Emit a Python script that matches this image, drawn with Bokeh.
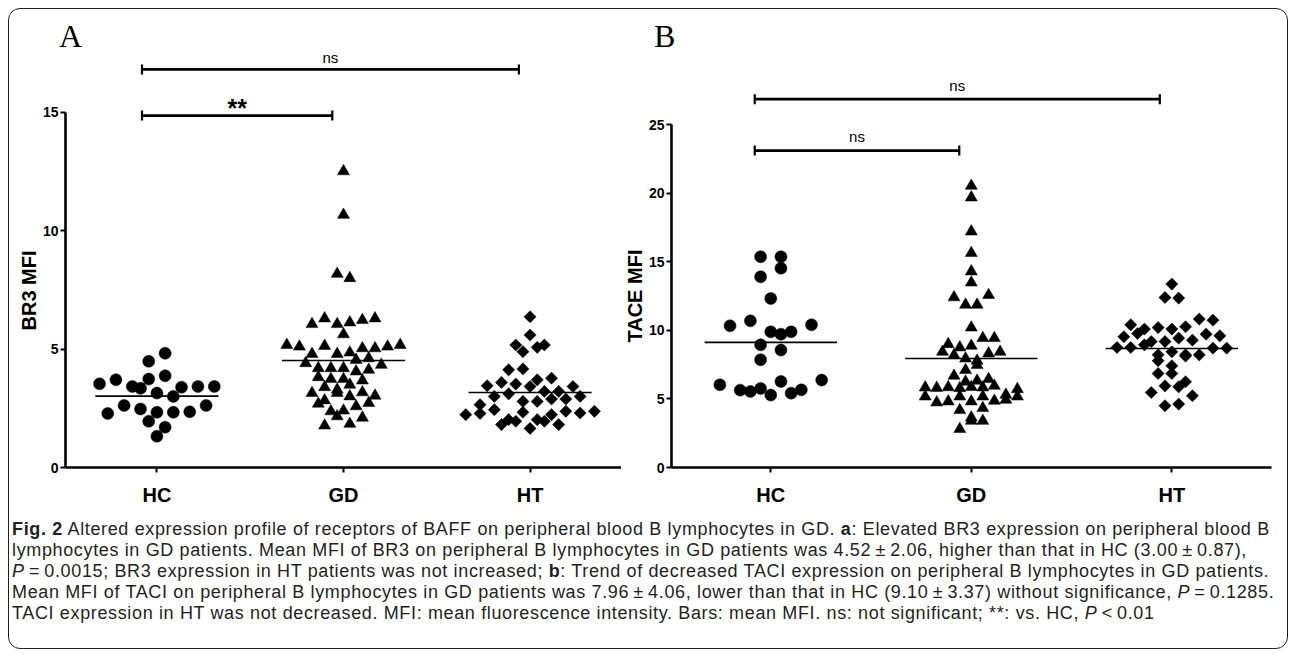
import numpy as np
from bokeh.plotting import figure
from bokeh.layouts import row, column
from bokeh.models import FixedTicker, Label, Div, Title
from bokeh.embed import file_html
from bokeh.resources import INLINE

# ---------------- data ----------------
groups = ["HC", "GD", "HT"]

br3_hc = [3.53, 3.70, 2.28, 3.34, 2.62, 4.48, 3.42, 2.47, 1.95, 1.32,
          4.82, 3.73, 3.14, 2.33, 1.70, 3.87, 3.39, 2.33, 3.42, 3.00,
          2.35, 3.42, 2.62]
br3_gd = [5.17, 5.10, 4.40, 3.14, 6.05, 4.79, 3.81, 3.39, 2.69,
          6.29, 5.13, 4.19, 3.73, 3.28, 2.83, 2.37, 1.77,
          8.17, 6.05, 4.79, 4.19, 3.73, 3.14, 2.16,
          12.50, 10.66, 5.62,
          7.99, 6.12, 4.85, 4.19, 2.40, 1.84,
          6.22, 5.03, 4.54, 4.05, 3.49, 3.00, 2.58, 2.10,
          6.29, 5.03, 4.61, 4.12, 3.67, 3.17, 2.72,
          5.10, 4.33, 3.03, 5.17]
br3_ht = [2.65, 2.23, 4.12, 3.45, 3.00, 2.28, 1.81, 3.59, 3.11, 2.44, 2.02,
          5.17, 3.52, 2.79, 2.33, 1.95, 6.36, 5.59, 4.89, 3.42, 2.02,
          5.07, 4.16, 3.70, 3.21, 2.79, 2.23, 1.65,
          5.17, 3.77, 3.21, 2.89, 2.37, 1.95, 3.42, 2.89, 2.30, 1.81,
          3.00, 2.37]

tace_hc = [5.54, 10.33, 6.03, 10.69, 9.89, 5.64, 15.36, 13.90,
           12.32, 9.89, 8.94, 7.85, 5.76, 15.36, 14.53,
           9.72, 8.56, 6.27, 5.28, 10.40, 5.66, 6.37, 5.42]
tace_gd = [5.17, 5.83, 5.80, 4.74, 8.43, 6.68, 5.85, 4.81,
           12.40, 8.99, 8.19, 6.25, 5.17, 4.18, 2.80,
           11.86, 8.75, 7.94, 7.10, 5.78, 4.81, 3.64,
           20.53, 19.68, 17.20, 15.63, 14.29, 13.48, 10.20,
           11.86, 8.87, 7.78, 6.32, 5.17, 4.33, 3.40,
           12.57, 9.43, 8.31, 7.46, 5.86, 4.86, 3.40,
           9.43, 8.43, 5.83, 4.93, 5.95, 5.17, 6.44, 5.30, 5.71]
tace_ht = [8.75, 10.40, 9.53, 8.75, 9.77, 8.94, 7.78,
           10.09, 8.21, 6.85, 5.47, 4.50,
           12.39, 10.20, 9.18, 8.43, 6.85, 5.95, 13.37,
           12.35, 10.09, 9.18, 8.21, 7.41, 5.88, 4.62,
           10.26, 9.43, 8.21, 6.25, 5.23, 9.28, 8.12,
           10.82, 9.72, 8.70, 10.74, 9.60, 8.70]

br3_ticks = [0, 5, 10, 15]
tace_ticks = [0, 5, 10, 15, 20, 25]

br3_tests = [("HC", "GD", 14.85, "**"), ("HC", "HT", 16.8, "ns")]
tace_tests = [("HC", "GD", 23.1, "ns"), ("HC", "HT", 26.85, "ns")]

caption_lines = [
    "<b>Fig. 2</b> Altered expression profile of receptors of BAFF on peripheral blood B lymphocytes in GD. <b>a</b>: Elevated BR3 expression on peripheral blood B",
    "lymphocytes in GD patients. Mean MFI of BR3 on peripheral B lymphocytes in GD patients was 4.52\u2009\u00b1\u20092.06, higher than that in HC (3.00\u2009\u00b1\u20090.87),",
    "<i>P</i>\u2009=\u20090.0015; BR3 expression in HT patients was not increased; <b>b</b>: Trend of decreased TACI expression on peripheral B lymphocytes in GD patients.",
    "Mean MFI of TACI on peripheral B lymphocytes in GD patients was 7.96\u2009\u00b1\u20094.06, lower than that in HC (9.10\u2009\u00b1\u20093.37) without significance, <i>P</i>\u2009=\u20090.1285.",
    "TACI expression in HT was not decreased. MFI: mean fluorescence intensity. Bars: mean MFI. ns: not significant; **: vs. HC, <i>P</i>\u2009&lt;\u20090.01",
]

# ---------------- styling ----------------
SANS = "Liberation Sans"
SERIF = "Liberation Serif"
FIG_H = 459
BORDER_TOP = 0
BORDER_BOTTOM = 41
FRAME_H = FIG_H - BORDER_TOP - BORDER_BOTTOM


def swarm(vals, px_per_unit, row_px, gap_px):
    """Prism-like row swarm: values closer than row_px share a centred row."""
    v = np.asarray(vals, dtype=float)
    order = np.argsort(-v, kind="stable")
    rows, cur, top = [], [], None
    for i in order:
        if cur and (top - v[i]) * px_per_unit > row_px:
            rows.append(cur)
            cur = []
        if not cur:
            top = v[i]
        cur.append(i)
    if cur:
        rows.append(cur)
    off = np.zeros(len(v))
    for r in rows:
        r = sorted(r)
        n = len(r)
        for k, i in enumerate(r):
            off[i] = (k - (n - 1) / 2.0) * gap_px
    return off


def make_panel(ylabel, label_offset, series, yticks, y_end, width, bl, br, x_range,
               tests, styles, ns_gap_px):
    p = figure(width=width, height=FIG_H, x_range=x_range, y_range=(0, y_end),
               output_backend="svg", toolbar_location=None,
               min_border_left=bl, min_border_right=br,
               min_border_top=BORDER_TOP, min_border_bottom=BORDER_BOTTOM)
    p.outline_line_color = None
    p.grid.visible = False
    p.background_fill_color = "white"
    p.border_fill_color = "white"

    frame_w = width - bl - br
    px_x = frame_w / (x_range[1] - x_range[0])
    px_y = FRAME_H / y_end

    for gi, (vals, st) in enumerate(zip(series, styles)):
        g = gi + 1
        off = swarm(vals, px_y, st["row"], st["gap"]) / px_x
        xs = g + off
        p.scatter(xs, vals, marker=st["marker"], size=st["size"], angle=st.get("angle", 0.0),
                  fill_color="black", line_color="black", line_width=0.5)
        m = float(np.mean(vals))
        p.segment(x0=[g - 0.33], y0=[m], x1=[g + 0.33], y1=[m],
                  line_color="black", line_width=1.6)

    cap = 5.0 / px_y
    for (a, b, ylev, txt) in tests:
        xa = groups.index(a) + 1 - 0.08
        xb = groups.index(b) + 1 - 0.06
        p.segment(x0=[xa], y0=[ylev], x1=[xb], y1=[ylev], line_color="black", line_width=2.6)
        p.segment(x0=[xa, xb], y0=[ylev - cap, ylev - cap], x1=[xa, xb], y1=[ylev + cap, ylev + cap],
                  line_color="black", line_width=2.2)
        if txt == "ns":
            p.add_layout(Label(x=(xa + xb) / 2, y=ylev + ns_gap_px / px_y, text="ns",
                               text_font=SANS, text_font_size="15px", text_align="center",
                               text_baseline="alphabetic", text_color="black"))
        else:
            p.add_layout(Label(x=(xa + xb) / 2, y=ylev + 8.0 / px_y, text=txt,
                               text_font=SANS, text_font_style="bold", text_font_size="25px",
                               text_align="center", text_baseline="alphabetic", text_color="black"))

    # axes
    p.yaxis.ticker = FixedTicker(ticks=yticks)
    p.yaxis.bounds = (yticks[0], yticks[-1])
    p.yaxis.major_label_text_font = SANS
    p.yaxis.major_label_text_font_style = "bold"
    p.yaxis.major_label_text_font_size = "14px"
    p.yaxis.major_label_standoff = 2

    p.xaxis.ticker = FixedTicker(ticks=[1, 2, 3])
    p.xaxis.major_label_overrides = {i + 1: g for i, g in enumerate(groups)}
    p.xaxis.major_label_text_font = SANS
    p.xaxis.major_label_text_font_style = "bold"
    p.xaxis.major_label_text_font_size = "20px"
    p.xaxis.major_label_standoff = 11

    for ax in (p.xaxis, p.yaxis):
        ax.axis_line_width = 2.6
        ax.axis_line_color = "black"
        ax.major_tick_line_width = 2
        ax.major_tick_line_color = "black"
        ax.major_tick_in = 0
        ax.major_tick_out = 5
        ax.minor_tick_line_color = None
        ax.major_label_text_color = "black"

    # y-axis title placed along the drawn part of the axis (offset from frame bottom)
    p.add_layout(Title(text=ylabel, align="left", offset=label_offset, standoff=0,
                       text_font=SANS, text_font_style="bold", text_font_size="20px",
                       text_color="black"), "left")
    return p


styles_A = [dict(marker="circle", size=12, row=12, gap=16.4),
            dict(marker="triangle", size=12, row=10, gap=12.6),
            dict(marker="square", size=8.6, angle=np.pi / 4, row=11, gap=14.3)]
styles_B = [dict(marker="circle", size=12, row=11, gap=20.5),
            dict(marker="triangle", size=12, row=10, gap=11.6),
            dict(marker="square", size=8.6, angle=np.pi / 4, row=11, gap=13.8)]

pA = make_panel("BR3 MFI", 137, [br3_hc, br3_gd, br3_ht], br3_ticks, 17.64,
                612, 56, 0, (0.51, 3.49), br3_tests, styles_A, 12)
pB = make_panel("TACE MFI", 125, [tace_hc, tace_gd, tace_ht], tace_ticks, 30.47,
                666, 46, 16, (0.505, 3.497), tace_tests, styles_B, 14)

letter_style = {"font-family": "'Liberation Serif', serif", "font-size": "32px",
                "line-height": "40px", "color": "black"}
letA = Div(text="<span style='position:relative;left:50px;top:7px'>A</span>",
           width=612, height=40, margin=0, styles=letter_style)
letB = Div(text="<span style='position:relative;left:33px;top:7px'>B</span>",
           width=666, height=40, margin=0, styles=letter_style)

cap = Div(text="<div style='padding:11px 0 0 3px'>" + "<br>".join(caption_lines) + "</div>",
          width=1272, height=140, margin=0,
          styles={"font-family": "'Liberation Sans', sans-serif", "font-size": "18px",
                  "letter-spacing": "0.64px",
                  "line-height": "21px", "color": "#231f20", "white-space": "nowrap"})

layout = column(row(letA, letB, spacing=0), row(pA, pB, spacing=0), cap, spacing=0,
                margin=(8, 8, 8, 8),
                styles={"border": "1.5px solid #231f20", "border-radius": "12px",
                        "background": "white"})

open("out.html", "w").write(file_html(layout, INLINE))
